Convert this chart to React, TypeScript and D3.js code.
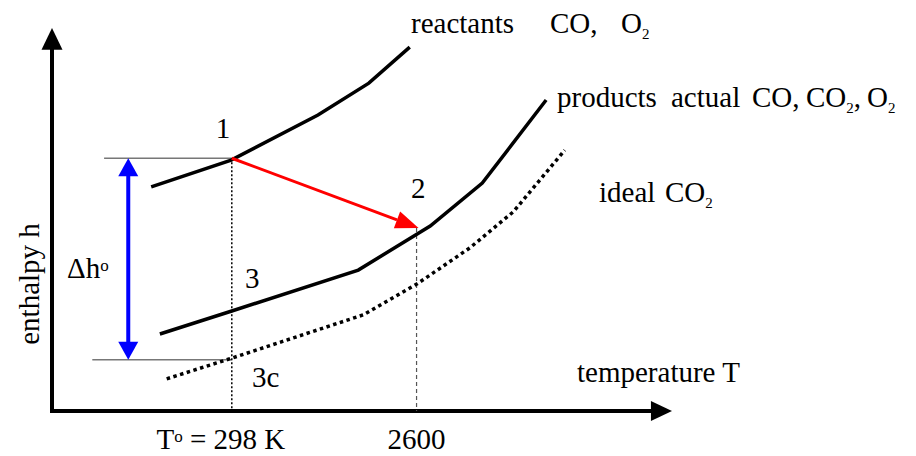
import { FC } from 'react'
import * as d3 from 'd3'

// schematic units: temperature 0..100 along the axis, enthalpy 0..100 up the axis
const reactantsT = [16.0, 28.9, 42.9, 51.1, 57.7]
const reactantsH = [58.5, 65.5, 77.3, 85.6, 95.0]

const productsT = [17.4, 29.0, 49.4, 61.0, 69.4, 79.7]
const productsH = [20.1, 26.1, 36.8, 48.3, 59.5, 81.2]

const idealT = [18.5, 29.0, 50.2, 58.9, 67.4, 74.4, 82.7]
const idealH = [8.4, 13.8, 25.1, 33.2, 42.6, 52.0, 68.1]

// reference states
const T0 = 29.0
const T2600 = 58.8
const h1 = 66.0
const h2 = 47.8
const h3c = 13.4
const dhT = 12.3
const tickLabels = ['298 K', '2600']

const width = 916
const height = 456
const font = "'Liberation Serif', 'Times New Roman', 'DejaVu Serif', serif"

const App: FC = () => {
	const x = d3.scaleLinear().domain([0, 100]).range([52, 672])
	const y = d3.scaleLinear().domain([0, 100]).range([411, 28])

	const line = d3
		.line<[number, number]>()
		.x((d) => x(d[0]))
		.y((d) => y(d[1]))

	const zip = (ts: number[], hs: number[]) =>
		ts.map((t, i) => [t, hs[i]] as [number, number])

	// red arrow 1 -> 2
	const ax1 = x(T0)
	const ay1 = y(h1)
	const ax2 = x(T2600) + 2
	const ay2 = y(h2)
	const ang = Math.atan2(ay2 - ay1, ax2 - ax1)
	const hl = 23
	const hw = 9
	const bx = ax2 - hl * Math.cos(ang)
	const by = ay2 - hl * Math.sin(ang)
	const redHead = `M${ax2},${ay2}L${bx - hw * Math.sin(ang)},${by + hw * Math.cos(ang)}L${bx + hw * Math.sin(ang)},${by - hw * Math.cos(ang)}Z`

	const bxp = x(dhT)
	const top = y(h1)
	const bot = y(h3c)

	const ox = x(0)
	const oy = y(0)

	return (
		<svg width={width} height={height} style={{ display: 'block', position: 'absolute', left: 0, top: 0 }}>
			<rect width={width} height={height} fill='#fff' />

			{/* axes */}
			<line x1={ox} y1={oy} x2={ox} y2={y(94.5)} stroke='#000' strokeWidth={4} />
			<path d={`M${ox},${y(100)}L${ox - 10.5},${y(94.3)}L${ox + 10.5},${y(94.3)}Z`} fill='#000' />
			<line x1={ox - 2} y1={oy} x2={x(96.8)} y2={oy} stroke='#000' strokeWidth={4} />
			<path d={`M${x(100)},${oy}L${x(96.6)},${oy - 10}L${x(96.6)},${oy + 10}Z`} fill='#000' />

			{/* guide lines */}
			<line x1={x(8.4)} y1={y(h1)} x2={x(T0)} y2={y(h1)} stroke='#777' strokeWidth={1.5} />
			<line x1={x(6.5)} y1={y(h3c)} x2={x(T0)} y2={y(h3c)} stroke='#777' strokeWidth={1.5} />
			<line x1={x(T0)} y1={y(h1)} x2={x(T0)} y2={oy} stroke='#000' strokeWidth={1.5} strokeDasharray='2 2' />
			<line x1={x(T2600)} y1={y(h2)} x2={x(T2600)} y2={oy} stroke='#555' strokeWidth={1.2} strokeDasharray='4 3' />

			{/* curves */}
			<path d={line(zip(reactantsT, reactantsH)) ?? ''} fill='none' stroke='#000' strokeWidth={3.5} />
			<path d={line(zip(productsT, productsH)) ?? ''} fill='none' stroke='#000' strokeWidth={3.5} />
			<path d={line(zip(idealT, idealH)) ?? ''} fill='none' stroke='#000' strokeWidth={3.5} strokeDasharray='3.5 3.5' />

			{/* red arrow */}
			<line x1={ax1} y1={ay1} x2={bx} y2={by} stroke='#f00' strokeWidth={3} />
			<path d={redHead} fill='#f00' />

			{/* blue double arrow */}
			<line x1={bxp} y1={top + 15} x2={bxp} y2={bot - 15} stroke='#00f' strokeWidth={4} />
			<path d={`M${bxp},${top}L${bxp - 10},${top + 18}L${bxp + 10},${top + 18}Z`} fill='#00f' />
			<path d={`M${bxp},${bot}L${bxp - 10},${bot - 18}L${bxp + 10},${bot - 18}Z`} fill='#00f' />

			<g style={{ fontFamily: font }} fontSize={29} fill='#000'>
				<text x={411} y={33}>
					<tspan x={411}>reactants</tspan>
					<tspan x={550}>CO,</tspan>
					<tspan x={621}>O</tspan>
					<tspan fontSize={15} dy={6}>2</tspan>
				</text>
				<text x={557} y={107}>
					<tspan x={557}>products</tspan>
					<tspan x={671}>actual</tspan>
					<tspan x={752}>CO,</tspan>
					<tspan x={806}>CO</tspan>
					<tspan fontSize={15} dy={6}>2</tspan>
					<tspan dy={-6}>,</tspan>
					<tspan x={867}>O</tspan>
					<tspan fontSize={15} dy={6}>2</tspan>
				</text>
				<text x={599} y={202}>
					<tspan x={599}>ideal</tspan>
					<tspan x={665}>CO</tspan>
					<tspan fontSize={15} dy={6}>2</tspan>
				</text>
				<text x={223} y={138} textAnchor='middle'>1</text>
				<text x={411} y={198}>2</text>
				<text x={245} y={288}>3</text>
				<text x={252} y={387}>3c</text>
				<text x={67} y={278}>
					Δh<tspan fontSize={17} dy={-7}>o</tspan>
				</text>
				<text x={577} y={382}>temperature T</text>
				<text x={x(T0)} y={449} textAnchor='middle' dx={-11}>
					T<tspan fontSize={17} dy={-7}>o</tspan>
					<tspan dy={7}> = {tickLabels[0]}</tspan>
				</text>
				<text x={x(T2600)} y={449} textAnchor='middle'>{tickLabels[1]}</text>
				<text transform='translate(39,284) rotate(-90)' textAnchor='middle'>enthalpy h</text>
			</g>
		</svg>
	)
}

export default App
